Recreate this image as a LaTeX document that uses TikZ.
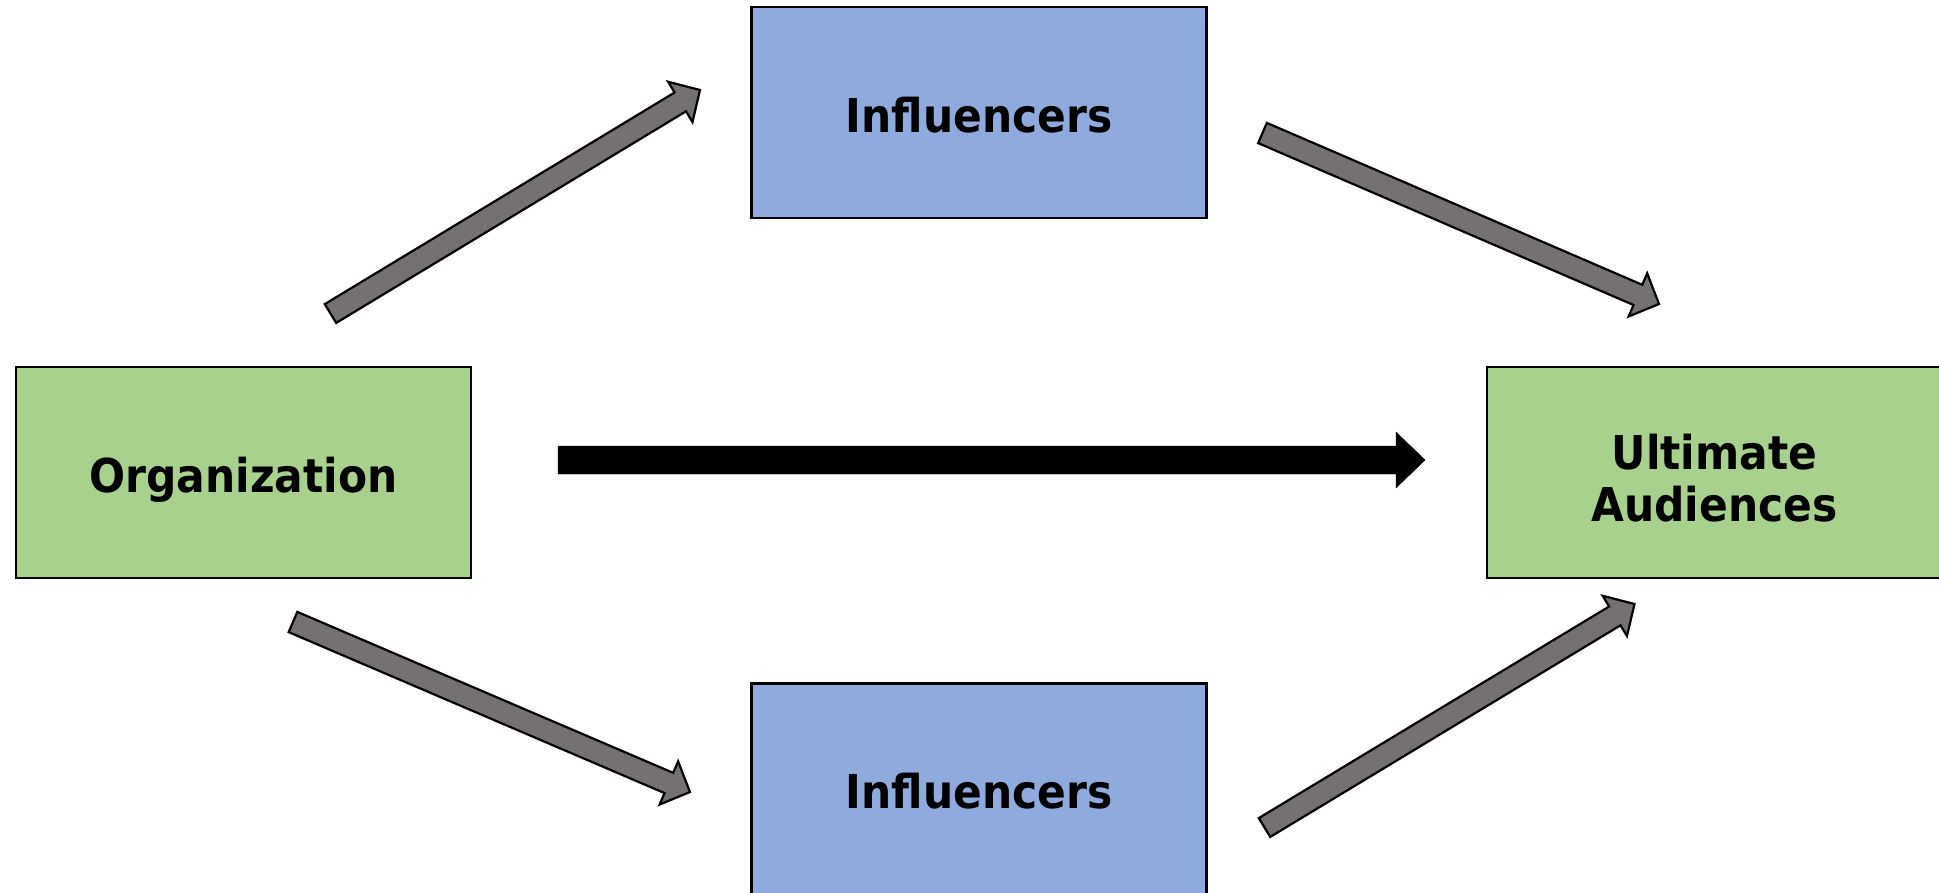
\documentclass[tikz,border=0pt]{standalone}
\usepackage{fontspec}
\setmainfont{DejaVu Sans}[FakeStretch=0.91]
\usetikzlibrary{calc}
\definecolor{orggreen}{HTML}{A9D18E}
\definecolor{inflblue}{HTML}{8FAADC}
\definecolor{arrowgray}{HTML}{767171}
% block arrow: style, tail, tip, half shaft width, half head width, head length
\def\blockarrow[#1](#2)(#3)(#4:#5:#6){%
	\coordinate (hb) at ($(#3)!#6pt!(#2)$);
	\draw[#1] ($(#2)!#4pt!90:(#3)$) -- ($(hb)!#4pt!-90:(#2)$) -- ($(hb)!#5pt!-90:(#2)$) -- (#3)
		-- ($(hb)!#5pt!90:(#2)$) -- ($(hb)!#4pt!90:(#2)$) -- ($(#2)!#4pt!-90:(#3)$) -- cycle;}

\begin{document}
\begin{tikzpicture}[x=1pt, y=-1pt,
		box/.style={draw=black, line width=2.2pt, minimum width=455pt, minimum height=211pt,
			inner sep=0pt, align=center, text height=39pt, text depth=0pt,
			font=\bfseries\fontsize{46.6}{52}\selectfont},
		grayarrow/.style={draw=black, fill=arrowgray, line width=2.2pt, line join=miter}]
			%%%%% START %%%%%
			
			\useasboundingbox (0, 0) rectangle (1939, 892);
			
			\node[box, fill=orggreen] (org) at (243.5, 472.5) {Organization};
			\node[box, fill=inflblue] (inftop) at (979, 112.5) {Influencers};
			\node[box, fill=inflblue] (infbot) at (979, 789) {Influencers};
			\node[box, fill=orggreen, text height=97pt] (ult) at (1714.5, 472.5) {Ultimate\\Audiences};
			
			\coordinate (ul-s) at (330.5, 313.5);
			\coordinate (ul-e) at (700, 90);
			\coordinate (ur-s) at (1262.5, 133);
			\coordinate (ur-e) at (1659, 304);
			\coordinate (ll-s) at (293, 622);
			\coordinate (ll-e) at (690, 792);
			\coordinate (lr-s) at (1264.5, 827.5);
			\coordinate (lr-e) at (1634.5, 604);
			\coordinate (mid-s) at (558, 460);
			\coordinate (mid-e) at (1425, 460);
			
			\blockarrow[grayarrow](ul-s)(ul-e)(11:23.5:23)
			\blockarrow[grayarrow](ur-s)(ur-e)(11:23.5:23)
			\blockarrow[grayarrow](ll-s)(ll-e)(11:23.5:23)
			\blockarrow[grayarrow](lr-s)(lr-e)(11:23.5:23)
			
			\blockarrow[fill=black](mid-s)(mid-e)(14:28:29)
			
			%%%%% END %%%%%
\end{tikzpicture}
\end{document}
